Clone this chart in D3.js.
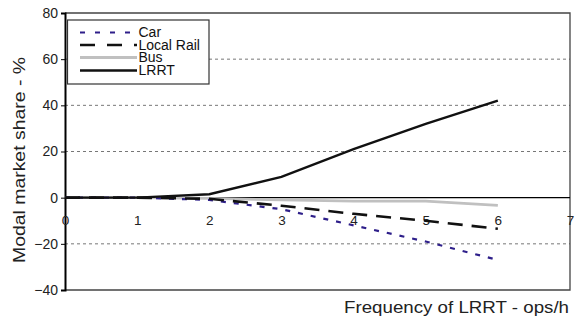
<!DOCTYPE html>
<html><head><meta charset="utf-8">
<script src="https://cdn.jsdelivr.net/npm/d3@7"></script>
<style>body{margin:0;background:#fff}svg{display:block}text{font-family:"Liberation Sans",Arial,sans-serif}</style>
</head><body><svg id="c" width="579" height="326"></svg>
<script>
const xValues = [0, 1, 2, 3, 4, 5, 6];
const car = [0, 0, -1, -5, -12, -19, -27];
const localRail = [0, 0, -0.5, -3.5, -7, -10, -13.5];
const bus = [0, 0, -0.3, -1, -1.5, -1.5, -3.3];
const lrrt = [0, 0, 1.5, 9, 21, 32, 42];
const seriesNames = ["Car", "Local Rail", "Bus", "LRRT"];
const xTicks = [0, 1, 2, 3, 4, 5, 6, 7];
const yTicks = [-40, -20, 0, 20, 40, 60, 80];

const svg = d3.select("#c");
const L = 65, R = 570, T = 13, B = 290;
const x = d3.scaleLinear().domain([0, 7]).range([L, R]);
const y = d3.scaleLinear().domain([-40, 80]).range([B, T]);

// gridlines
svg.append("g").selectAll("line").data(yTicks.filter(v => v !== 0 && v !== 80 && v !== -40)).join("line")
  .attr("x1", L).attr("x2", R).attr("y1", d => y(d)).attr("y2", d => y(d))
  .attr("stroke", "#777").attr("stroke-width", 1).attr("stroke-dasharray", "3,3");

// frame top/right/bottom
svg.append("path").attr("d", `M${L},${T}H${R}V${B}H${L}`).attr("fill", "none").attr("stroke", "#444").attr("stroke-width", 1.3);

// zero line
svg.append("line").attr("x1", L).attr("x2", R).attr("y1", y(0)).attr("y2", y(0)).attr("stroke", "#000").attr("stroke-width", 1.2);

// y axis
const yAxis = svg.append("g").attr("transform", `translate(${L},0)`)
  .call(d3.axisLeft(y).tickValues(yTicks).tickSize(4).tickPadding(3).tickFormat(d3.format("d")));
yAxis.select(".domain").attr("stroke", "#000").attr("stroke-width", 2);
yAxis.selectAll("text").attr("font-size", 14).attr("fill", "#222").attr("font-family", "Liberation Sans, Arial, sans-serif");

// x axis at zero
const xAxis = svg.append("g").attr("transform", `translate(0,${y(0)})`)
  .call(d3.axisBottom(x).tickValues(xTicks).tickSize(0).tickPadding(18).tickFormat(d3.format("d")));
xAxis.select(".domain").remove();
xAxis.selectAll("text").attr("font-size", 13.5).attr("fill", "#222").attr("font-family", "Liberation Sans, Arial, sans-serif");

const styles = [
  {data: car, color: "#2e1f8a", w: 2.2, dash: "5,8"},
  {data: localRail, color: "#111", w: 2.6, dash: "15,9"},
  {data: bus, color: "#c0c0c0", w: 2.8, dash: null},
  {data: lrrt, color: "#111", w: 2.4, dash: null}
];
const line = d3.line().x((d, i) => x(xValues[i])).y(d => y(d));
[2, 0, 1, 3].forEach(k => {
  const s = styles[k];
  svg.append("path").datum(s.data).attr("d", line).attr("fill", "none")
    .attr("stroke", s.color).attr("stroke-width", s.w).attr("stroke-dasharray", s.dash);
});

// legend
const lg = svg.append("g");
lg.append("rect").attr("x", 67.5).attr("y", 20).attr("width", 141.5).attr("height", 64)
  .attr("fill", "#fff").attr("stroke", "#333").attr("stroke-width", 1.2);
const rowsY = [32.5, 45, 57.5, 70.5];
seriesNames.forEach((n, i) => {
  const s = styles[i];
  lg.append("line").attr("x1", 80).attr("x2", 137).attr("y1", rowsY[i]).attr("y2", rowsY[i])
    .attr("stroke", s.color).attr("stroke-width", s.w).attr("stroke-dasharray", i === 0 ? "5,10" : (i === 1 ? "15,12" : null));
  lg.append("text").attr("x", 138.5).attr("y", rowsY[i] + 4.8).attr("font-size", 14).attr("fill", "#111").text(n);
});

// axis titles
svg.append("text").attr("transform", "translate(25,160) rotate(-90)").attr("text-anchor", "middle")
  .attr("font-size", 16).attr("fill", "#222")
  .attr("textLength", 206).attr("lengthAdjust", "spacingAndGlyphs").text("Modal market share - %");
svg.append("text").attr("x", 569).attr("y", 313).attr("text-anchor", "end")
  .attr("font-size", 16.5).attr("fill", "#222")
  .attr("textLength", 225).attr("lengthAdjust", "spacingAndGlyphs").text("Frequency of LRRT - ops/h");
</script></body></html>
